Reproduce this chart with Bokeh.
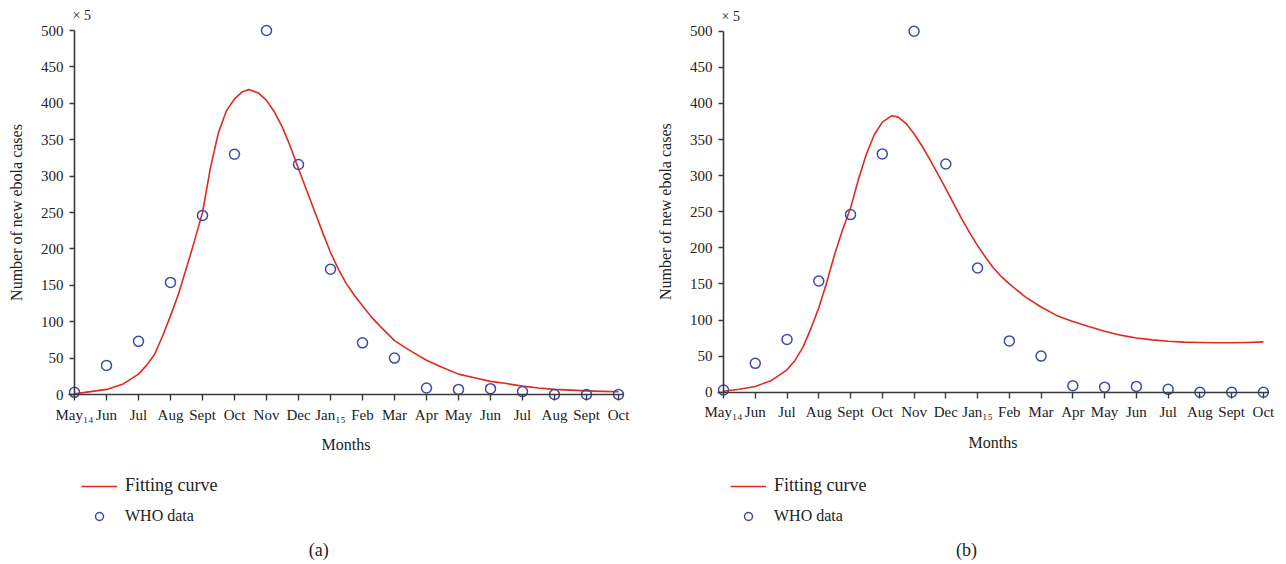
import math
from bokeh.plotting import figure
from bokeh.layouts import row
from bokeh.models import FixedTicker, Legend, LegendItem, Label, Range1d
from bokeh.embed import file_html
from bokeh.resources import INLINE

# ---------------- data ----------------
month_labels = ["May\u2081\u2084", "Jun", "Jul", "Aug", "Sept", "Oct", "Nov", "Dec",
                "Jan\u2081\u2085", "Feb", "Mar", "Apr", "May", "Jun", "Jul", "Aug", "Sept", "Oct"]
month_idx = list(range(18))
who_cases = [3, 40, 73, 154, 246, 330, 500, 316, 172, 71, 50, 9, 7, 8, 4, 0, 0, 0]

fit_a_t = [0, 0.5, 1, 1.5, 2, 2.25, 2.5, 2.75, 3, 3.25, 3.5, 3.75, 4, 4.25, 4.5, 4.75, 5,
           5.25, 5.45, 5.75, 6, 6.25, 6.5, 6.75, 7, 7.25, 7.5, 7.75, 8, 8.25, 8.5, 8.75, 9,
           9.25, 9.5, 10, 10.5, 11, 11.5, 12, 12.5, 13, 13.5, 14, 14.5, 15, 15.5, 16, 16.5, 17]
fit_a = [1, 4, 7, 14, 28, 40, 55, 80, 108, 138, 174, 211, 250, 312, 360, 390, 406,
         416, 419, 414, 404, 388, 367, 340, 310, 281, 252, 223, 195, 172, 152, 136, 122,
         108, 96, 74, 60, 47, 37, 28, 23, 18, 15, 11.5, 9, 7, 6, 5, 4.3, 3.7]

fit_b_t = [0, 0.5, 1, 1.5, 2, 2.25, 2.5, 2.75, 3, 3.25, 3.5, 3.75, 4, 4.25, 4.5, 4.75, 5,
           5.3, 5.5, 5.75, 6, 6.25, 6.5, 6.75, 7, 7.25, 7.5, 7.75, 8, 8.25, 8.5, 8.75, 9,
           9.5, 10, 10.5, 11, 11.5, 12, 12.5, 13, 13.5, 14, 14.5, 15, 15.5, 16, 16.5, 17]
fit_b = [1.4, 4, 8, 16, 31, 44, 62, 88, 117, 152, 191, 225, 255, 295, 330, 357, 374,
         383, 381, 372, 358, 341, 322, 302, 282, 261, 240, 221, 203, 187, 172, 160, 150,
         132, 118, 106, 98, 91, 84.5, 79, 75, 72.5, 70.6, 69.3, 68.8, 68.4, 68.4, 68.9, 69.7]

y_ticks = list(range(0, 501, 50))

SERIF = "Liberation Serif"
RED = "#e0291f"
BLUE = "#3d4aae"
AXIS = "#3a3a3a"
TXT = "#222222"
H = 560


def make_panel(fit_t, fit_v, width, x0_px, px_per_month, y0_px, px_per_unit, caption,
               cap_x, cap_y, ylab_x):
    xr = Range1d(-x0_px / px_per_month, (width - x0_px) / px_per_month)
    yr = Range1d(-(H - y0_px) / px_per_unit, y0_px / px_per_unit)
    p = figure(width=width, height=H, output_backend="svg", toolbar_location=None,
               x_range=xr, y_range=yr,
               min_border_left=0, min_border_right=0, min_border_top=0, min_border_bottom=0)
    p.outline_line_color = None
    p.grid.visible = False
    p.background_fill_color = "white"
    p.border_fill_color = "white"

    line_r = p.line(fit_t, fit_v, line_color=RED, line_width=1.6, line_join="round")
    pts_r = p.scatter(month_idx, who_cases, marker="circle", size=10, fill_color=None,
                      line_color=BLUE, line_width=1.5)

    xa = p.xaxis[0]
    xa.fixed_location = 0
    xa.bounds = (-0.19, 17.15)
    xa.ticker = FixedTicker(ticks=month_idx)
    xa.major_label_overrides = {i: lab for i, lab in enumerate(month_labels)}
    xa.minor_tick_line_color = None
    xa.major_tick_out = 6
    xa.major_tick_in = 0
    xa.axis_line_color = AXIS
    xa.axis_line_width = 1.6
    xa.major_tick_line_color = AXIS
    xa.major_tick_line_width = 1.4
    xa.major_label_text_font = SERIF
    xa.major_label_text_font_size = "15px"
    xa.major_label_text_color = TXT
    xa.major_label_standoff = 6
    xa.axis_label = "Months"
    xa.axis_label_text_font = SERIF
    xa.axis_label_text_font_size = "16px"
    xa.axis_label_text_font_style = "normal"
    xa.axis_label_text_color = TXT
    xa.axis_label_standoff = 10

    ya = p.yaxis[0]
    ya.fixed_location = 0
    ya.bounds = (0, 500)
    ya.ticker = FixedTicker(ticks=y_ticks)
    ya.minor_tick_line_color = None
    ya.major_tick_out = 5
    ya.major_tick_in = 0
    ya.axis_line_color = AXIS
    ya.axis_line_width = 1.6
    ya.major_tick_line_color = AXIS
    ya.major_tick_line_width = 1.4
    ya.major_label_text_font = SERIF
    ya.major_label_text_font_size = "15px"
    ya.major_label_text_color = TXT
    ya.major_label_standoff = 6

    p.add_layout(Label(x=ylab_x, y=250, text="Number of new ebola cases", angle=math.pi / 2,
                       text_align="center", text_baseline="middle", text_font=SERIF,
                       text_font_size="16px", text_color=TXT))
    p.add_layout(Label(x=-0.06, y=521, text="\u00d7 5", text_align="left",
                       text_baseline="middle", text_font=SERIF,
                       text_font_size="14px", text_color=TXT))
    p.add_layout(Label(x=cap_x, y=cap_y, text=caption, text_align="center",
                       text_baseline="middle", text_font=SERIF,
                       text_font_size="18px", text_color=TXT))

    common = dict(border_line_color=None, background_fill_alpha=0, padding=0, margin=0,
                  glyph_width=36, glyph_height=20, label_standoff=8,
                  label_text_font=SERIF, label_text_color=TXT)
    leg1 = Legend(items=[LegendItem(label="Fitting curve", renderers=[line_r])],
                  location=(81, H - 496), label_text_font_size="18px", **common)
    leg2 = Legend(items=[LegendItem(label="WHO data", renderers=[pts_r])],
                  location=(81, H - 526), label_text_font_size="16px", **common)
    p.add_layout(leg1)
    p.add_layout(leg2)
    return p


p1 = make_panel(fit_a_t, fit_a, 649, 74, 32.0, 394, 0.728, "(a)", 7.63, -214, -1.81)
p2 = make_panel(fit_b_t, fit_b, 629, 74, 31.76, 391.7, 0.722, "(b)", 7.65, -219, -1.83)

layout = row(p1, p2)
open("out.html", "w").write(file_html(layout, INLINE))
